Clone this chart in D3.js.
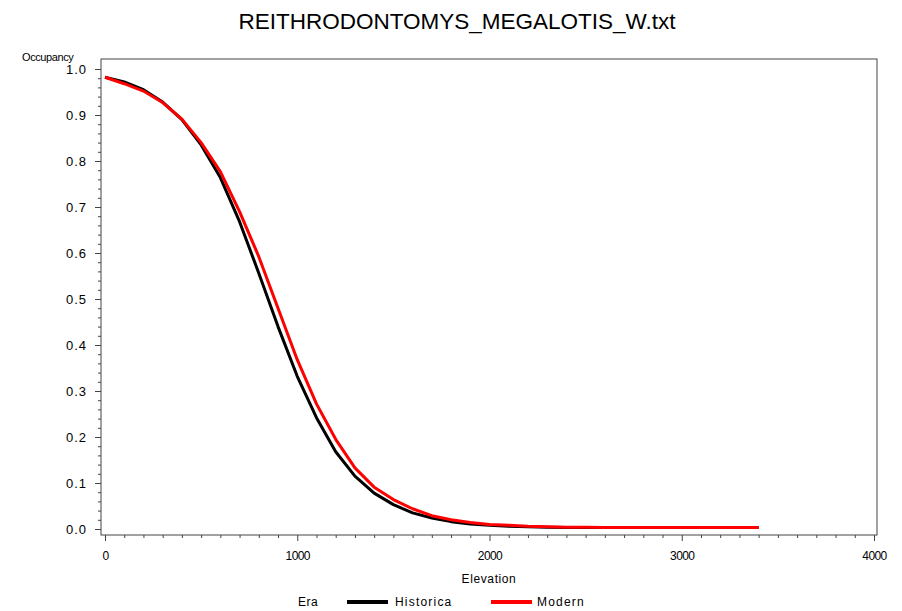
<!DOCTYPE html>
<html>
<head>
<meta charset="utf-8">
<script src="https://cdn.jsdelivr.net/npm/d3@7"></script>
<style>
  html, body { margin: 0; padding: 0; background: #fff; }
  svg { display: block; font-family: "Liberation Sans", Arial, sans-serif; }
</style>
</head>
<body>
<svg id="chart" width="902" height="611"></svg>
<script>
// ---- data ----
const title = "REITHRODONTOMYS_MEGALOTIS_W.txt";
const elevation = [0,100,200,300,400,500,600,700,800,900,1000,1100,1200,1300,1400,1500,1600,1700,1800,1900,2000,2100,2200,2300,2400,2500,2600,2700,2800,2900,3000,3100,3200,3300,3400];
const historical = [0.982,0.972,0.955,0.928,0.890,0.835,0.764,0.668,0.556,0.440,0.332,0.242,0.168,0.115,0.078,0.053,0.035,0.024,0.016,0.011,0.008,0.006,0.005,0.004,0.003,0.003,0.003,0.003,0.003,0.003,0.003,0.003,0.003,0.003,0.003];
const modern = [0.982,0.968,0.952,0.927,0.891,0.840,0.777,0.690,0.592,0.480,0.368,0.272,0.195,0.133,0.091,0.064,0.044,0.029,0.020,0.014,0.010,0.008,0.006,0.005,0.004,0.004,0.003,0.003,0.003,0.003,0.003,0.003,0.003,0.003,0.003];
const xTicks = [0,1000,2000,3000,4000];
const yTicks = [0,0.1,0.2,0.3,0.4,0.5,0.6,0.7,0.8,0.9,1.0];
const seriesNames = ["Historica","Modern"];
const seriesColors = ["#000000","#ff0000"];

// ---- layout ----
const svg = d3.select("#chart");
const frame = {left: 101, right: 877, top: 59, bottom: 535};
const x = d3.scaleLinear().domain([0,4000]).range([105,874]);
const y = d3.scaleLinear().domain([0,1]).range([529,69]);

// title
svg.append("text").attr("x",457).attr("y",29).attr("text-anchor","middle")
  .attr("font-size",22.5).attr("fill","#000").text(title);

// frame
svg.append("rect").attr("x",frame.left).attr("y",frame.top)
  .attr("width",frame.right-frame.left).attr("height",frame.bottom-frame.top)
  .attr("fill","none").attr("stroke","#444").attr("stroke-width",1);

// x axis (major + minor)
const xMinor = d3.range(0,4001,100).filter(v => v % 1000 !== 0);
const gx = svg.append("g").attr("transform",`translate(0,${frame.bottom})`);
gx.append("g").call(d3.axisBottom(x).tickValues(xMinor).tickSize(3).tickFormat(""))
  .call(g => g.select(".domain").remove());
gx.append("g").call(d3.axisBottom(x).tickValues(xTicks).tickSize(6).tickPadding(10).tickFormat(d3.format("d")))
  .call(g => g.select(".domain").remove())
  .call(g => g.selectAll("text").attr("font-size",12).attr("font-family","Liberation Sans, Arial, sans-serif").attr("letter-spacing","-0.6"));
gx.selectAll("line").attr("stroke","#444");

// y axis (major + minor)
const yMinor = d3.range(0,51).map(i => i/50).filter((v,i) => i % 5 !== 0);
const gy = svg.append("g").attr("transform",`translate(${frame.left},0)`);
gy.append("g").call(d3.axisLeft(y).tickValues(yMinor).tickSize(3).tickFormat(""))
  .call(g => g.select(".domain").remove());
gy.append("g").call(d3.axisLeft(y).tickValues(yTicks).tickSize(6).tickPadding(8).tickFormat(d3.format(".1f")))
  .call(g => g.select(".domain").remove())
  .call(g => g.selectAll("text").attr("font-size",13).attr("font-family","Liberation Sans, Arial, sans-serif").attr("letter-spacing","1"));
gy.selectAll("line").attr("stroke","#444");

// axis labels
svg.append("text").attr("x",22).attr("y",61).attr("font-size",11).attr("letter-spacing","-0.4").text("Occupancy");
svg.append("text").attr("x",(frame.left+frame.right)/2).attr("y",583).attr("text-anchor","middle")
  .attr("font-size",12).attr("letter-spacing","0.6").text("Elevation");

// lines
const line = d3.line().x((d,i) => x(elevation[i])).y(d => y(d));
[historical, modern].forEach((s,k) => {
  svg.append("path").datum(s).attr("d",line).attr("fill","none")
    .attr("stroke",seriesColors[k]).attr("stroke-width",3).attr("stroke-linejoin","round");
});

// legend
const lg = svg.append("g").attr("font-size",12);
lg.append("text").attr("x",298).attr("y",606).attr("letter-spacing","0.5").text("Era");
const legPos = [{x1:347,x2:388,tx:395},{x1:491,x2:532,tx:537}];
seriesNames.forEach((n,k) => {
  lg.append("line").attr("x1",legPos[k].x1).attr("x2",legPos[k].x2).attr("y1",602).attr("y2",602)
    .attr("stroke",seriesColors[k]).attr("stroke-width",4);
  lg.append("text").attr("x",legPos[k].tx).attr("y",606).attr("letter-spacing","1.2").text(n);
});
</script>
</body>
</html>
